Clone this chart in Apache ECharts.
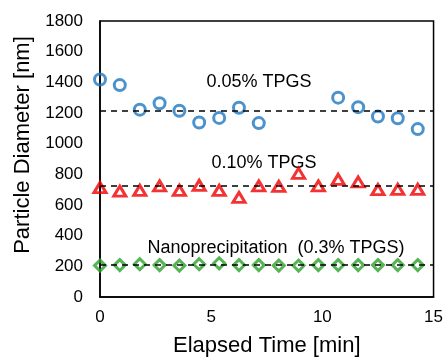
<!DOCTYPE html>
<html>
<head>
<meta charset="utf-8">
<script src="https://cdn.jsdelivr.net/npm/echarts@6/dist/echarts.min.js"></script>
<style>
  html, body { margin: 0; padding: 0; background: #fff; }
  #chart { width: 446px; height: 362px; }
</style>
</head>
<body>
<div id="chart"></div>
<script>
// sampling times [min]
const times = [0, 0.89, 1.79, 2.68, 3.57, 4.46, 5.36, 6.25, 7.14, 8.04, 8.93, 9.82, 10.71, 11.61, 12.5, 13.39, 14.29];
// particle diameter [nm], null = not measured
const tpgs005 = [1418, 1382, 1222, 1264, 1215, 1138, 1168, 1234, 1134, null, null, null, 1300, 1238, 1177, 1166, 1095];
const tpgs010 = [713, 690, 696, 724, 696, 728, 696, 649, 724, 722, 807, 724, 767, 750, 700, 702, 702];
const nanoprec = [205, 208, 214, 208, 205, 214, 220, 208, 208, 205, 205, 208, 208, 208, 208, 208, 208];
// dashed mean lines
const means = [1217, 728, 209];
const yTicks = [0, 200, 400, 600, 800, 1000, 1200, 1400, 1600, 1800];
const xTicks = [0, 5, 10, 15];

const FONT = '"Liberation Sans", Arial, sans-serif';

const toPairs = (vals) => vals.map((v, i) => [times[i], v]).filter(p => p[1] != null);

const chart = echarts.init(document.getElementById('chart'), null, { renderer: 'canvas' });

function meanLine(v) {
  return {
    silent: true,
    symbol: 'none',
    label: { show: false },
    lineStyle: { color: '#000', type: [6, 5], width: 1.5 },
    data: [{ yAxis: v }]
  };
}

const option = {
  animation: false,
  backgroundColor: '#fff',
  grid: {
    left: 100,
    right: 12,
    top: 21,
    bottom: 60,
    show: true,
    borderColor: '#000',
    borderWidth: 1.5
  },
  xAxis: {
    type: 'value',
    min: xTicks[0],
    max: xTicks[xTicks.length - 1],
    interval: 5,
    name: 'Elapsed Time [min]',
    nameLocation: 'middle',
    nameGap: 38,
    nameTextStyle: { fontFamily: FONT, fontSize: 22, color: '#000' },
    axisLine: { lineStyle: { color: '#000', width: 1.5 } },
    axisTick: { show: false },
    splitLine: { show: false },
    axisLabel: { fontFamily: FONT, fontSize: 17, color: '#000', margin: 12 }
  },
  yAxis: {
    type: 'value',
    min: yTicks[0],
    max: yTicks[yTicks.length - 1],
    interval: 200,
    axisLine: { show: true, lineStyle: { color: '#000', width: 1.5 } },
    axisTick: { show: false },
    splitLine: { show: false },
    axisLabel: { fontFamily: FONT, fontSize: 17, color: '#000', margin: 17, formatter: (v) => String(v) }
  },
  graphic: [
    {
      type: 'text', x: 23, y: 145, rotation: Math.PI / 2,
      style: { text: 'Particle Diameter [nm]', font: '22px ' + FONT, fill: '#000', align: 'center', verticalAlign: 'middle' }
    },
    {
      type: 'text', x: 259, y: 82,
      style: { text: '0.05% TPGS', font: '18px ' + FONT, fill: '#000', align: 'center', verticalAlign: 'middle' }
    },
    {
      type: 'text', x: 264, y: 163,
      style: { text: '0.10% TPGS', font: '18px ' + FONT, fill: '#000', align: 'center', verticalAlign: 'middle' }
    },
    {
      type: 'text', x: 276, y: 248,
      style: { text: 'Nanoprecipitation  (0.3% TPGS)', font: '18px ' + FONT, fill: '#000', align: 'center', verticalAlign: 'middle' }
    }
  ],
  series: [
    {
      name: '0.05% TPGS',
      type: 'scatter',
      data: toPairs(tpgs005),
      symbol: 'circle',
      symbolSize: 11,
      itemStyle: { color: 'rgba(0,0,0,0)', borderColor: '#1F77BF', borderWidth: 3 },
      markLine: meanLine(means[0]),
      z: 3
    },
    {
      name: '0.10% TPGS',
      type: 'scatter',
      data: toPairs(tpgs010),
      symbol: 'triangle',
      symbolSize: [12, 10],
      itemStyle: { color: 'rgba(0,0,0,0)', borderColor: '#F00000', borderWidth: 3 },
      markLine: meanLine(means[1]),
      z: 3
    },
    {
      name: 'Nanoprecipitation (0.3% TPGS)',
      type: 'scatter',
      data: toPairs(nanoprec),
      symbol: 'diamond',
      symbolSize: [11, 11],
      itemStyle: { color: 'rgba(0,0,0,0)', borderColor: '#2CA02C', borderWidth: 3 },
      markLine: meanLine(means[2]),
      z: 3
    }
  ]
};

chart.setOption(option);
</script>
</body>
</html>
